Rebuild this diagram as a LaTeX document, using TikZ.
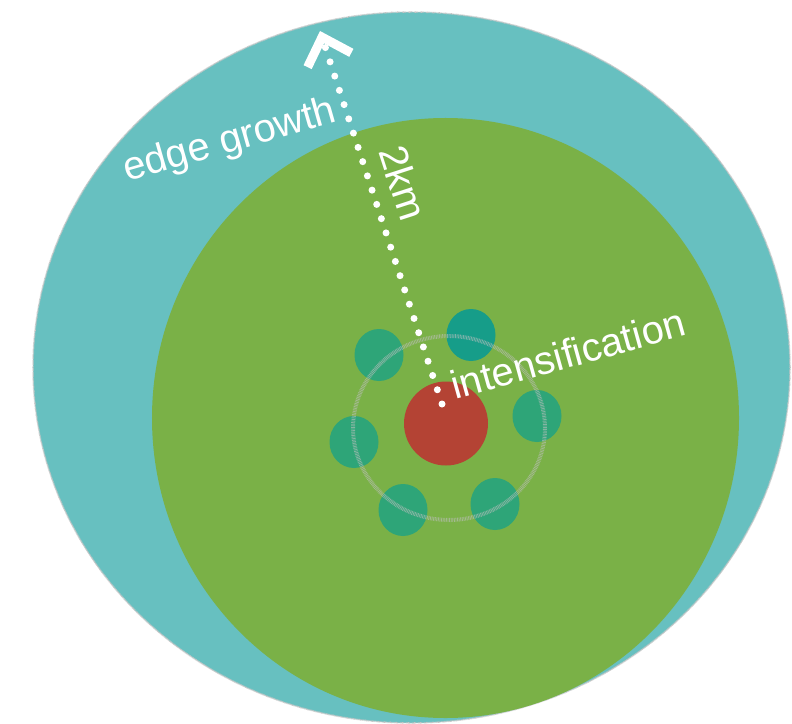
\documentclass[tikz,border=0pt]{standalone}
\usepackage{fontspec}
\setmainfont{Liberation Sans}
\usetikzlibrary{arrows.meta, positioning, shapes.geometric}

\definecolor{edgeteal}{RGB}{103,192,192}
\definecolor{zonegreen}{RGB}{122,177,71}
\definecolor{corered}{RGB}{180,67,52}
\definecolor{sitegreen}{RGB}{46,165,120}
\definecolor{siteteal}{RGB}{22,157,137}

\begin{document}
\begin{tikzpicture}[
      x=1bp, y=-1bp,
      zone/.style={ellipse, inner sep=0pt},
      site/.style={ellipse, inner sep=0pt, minimum width=49bp, minimum height=52bp, fill=sitegreen},
      txt/.style={text=white, font=\fontsize{40}{48}\selectfont, inner sep=0pt}
    ]
      \useasboundingbox (0,0) rectangle (792,724);
      \node[zone, fill=edgeteal, draw=gray!45, line width=1.5bp, dash pattern=on 0.6bp off 0.6bp,
            minimum width=757bp, minimum height=711bp] (edge) at (411.5,367.5) {};
      \node[zone, fill=zonegreen, minimum width=587bp, minimum height=600bp] (zone) at (445.5,418) {};
      \node[circle, fill=corered, inner sep=0pt, minimum size=84bp] (core) at (446,423.5) {};
      \node[site] (s1) at (379,355) {};
      \node[site, fill=siteteal] (s2) at (471,335) {};
      \node[site] (s3) at (537,416) {};
      \node[site] (s4) at (354,442) {};
      \node[site] (s5) at (403,510) {};
      \node[site] (s6) at (495,504) {};
      % ring of sites
      \node[zone, draw=gray!50, draw opacity=0.6, line width=4bp, dash pattern=on 0.8bp off 0.8bp,
            minimum width=192bp, minimum height=184bp] (ring) at (449,428) {};
      \coordinate (start) at (442,404);
      \coordinate (tip) at (320,31);
      \draw[white, line width=7bp, line cap=round, dash pattern=on 0bp off 15bp,
            -{Straight Barb[length=24bp, width=46bp, line width=9bp]}] (start) -- (tip);
      \node[txt, rotate=16, anchor=base west] (growth) at (127,182) {edge growth};
      \node[txt, rotate=-72, anchor=base west] (dist) at (378,151) {2km};
      \node[txt, rotate=15.6, anchor=base west] (intens) at (455,400) {intensification};
    \end{tikzpicture}
\end{document}
